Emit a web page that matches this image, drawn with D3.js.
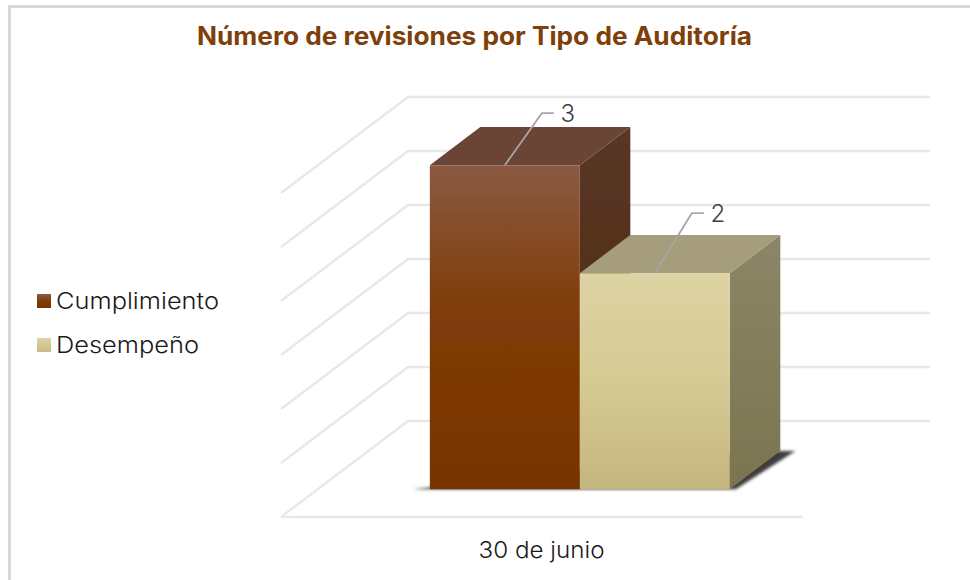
<!DOCTYPE html>
<html>
<head>
<meta charset="utf-8">
<script src="https://cdn.jsdelivr.net/npm/d3@7"></script>
<style>
  html, body { margin: 0; padding: 0; background: #fff; overflow: hidden; }
  text { font-family: "Inter", "Lato", sans-serif; }
</style>
</head>
<body>
<div id="chart"></div>
<script>
// chart values
const categories = ["30 de junio"];
const seriesNames = ["Cumplimiento", "Desempeño"];
const seriesValues = [3, 2];
const gridTicks = [0, 0.5, 1, 1.5, 2, 2.5, 3];

const svgWidth = 970, svgHeight = 580;

// fake 3D: every point is (x on the floor, value, depth 0..1)
const depthX = 127, depthY = 96;
const barNear = 0.29, barFar = 0.6875;
const floorLeft = 281, floorRight = 803;

const x = d3.scaleBand().domain(seriesNames).range([floorLeft + 1, floorRight + 1]).paddingInner(0).paddingOuter(0.74);
const y = d3.scaleLinear().domain([0, 3]).range([517, 193]);

const project = (px, v, z) => [px + z * depthX, y(v) - z * depthY];
const line = d3.line();

let svg = d3.select("#chart").append("svg")
    .attr("width", svgWidth)
    .attr("height", svgHeight);

let defs = svg.append("defs");

function gradient(id, stops) {
    let g = defs.append("linearGradient").attr("id", id)
        .attr("x1", 0).attr("y1", 0).attr("x2", 0).attr("y2", 1);
    stops.forEach(s => g.append("stop").attr("offset", s[0]).attr("stop-color", s[1]));
}
gradient("front0", [[0, "#8b5a42"], [0.45, "#7f3c08"], [1, "#783400"]]);
gradient("side0", [[0, "#583727"], [1, "#4c2507"]]);
gradient("front1", [[0, "#ddd3a3"], [0.5, "#d6ca94"], [1, "#c4b67f"]]);
gradient("side1", [[0, "#8c8668"], [1, "#7b744f"]]);
gradient("key0", [[0, "#8c5b43"], [0.5, "#7f3c08"], [1, "#783400"]]);
gradient("key1", [[0, "#ddd3a3"], [1, "#c9bc87"]]);

function blur(id, amount) {
    defs.append("filter").attr("id", id)
        .attr("x", "-20%").attr("y", "-20%").attr("width", "140%").attr("height", "140%")
        .append("feGaussianBlur").attr("stdDeviation", amount);
}
blur("soft", 1.8);
blur("edge", 0.5);

const topColors = ["#6b4535", "#a69d7b"];

// frame
svg.append("path")
    .attr("d", "M970,6.5H9.5V580")
    .attr("fill", "none")
    .attr("stroke", "#d9d9d9")
    .attr("stroke-width", 3);

// title
svg.append("text")
    .attr("x", 474.5)
    .attr("y", 45)
    .attr("text-anchor", "middle")
    .attr("font-size", 25)
    .attr("font-weight", 700)
    .attr("fill", "#7f3f0a")
    .attr("textLength", 555)
    .attr("lengthAdjust", "spacingAndGlyphs")
    .text("Número de revisiones por Tipo de Auditoría");

// walls and floor grid
let grid = svg.append("g")
    .attr("fill", "none")
    .attr("stroke", "#e8e8e8")
    .attr("stroke-width", 2.4)
    .attr("filter", "url(#edge)");
gridTicks.forEach(function(t) {
    grid.append("path").attr("d", line([project(floorLeft, t, 0), project(floorLeft, t, 1), project(floorRight, t, 1)]));
});
grid.append("path").attr("d", line([project(floorLeft, 0, 0), project(floorRight, 0, 0)]));

// shadow under the bars
let barRight = x(seriesNames[1]) + x.bandwidth();
svg.append("path")
    .attr("d", line([
        project(x(seriesNames[0]) - 17, 0, barNear),
        project(barRight + 6, 0, barNear),
        project(barRight + 15, 0, barFar),
        project(barRight - 30, 0, barFar)
    ]) + "Z")
    .attr("fill", "#3c3c3c")
    .attr("filter", "url(#soft)");

// bars, left one first so the right one covers its side face
let bars = svg.selectAll(".bar")
    .data(seriesNames)
    .enter()
    .append("g")
    .attr("class", "bar")
    .attr("filter", "url(#edge)");

bars.append("path")
    .attr("d", function(d, i) {
        let x1 = x(d) + x.bandwidth(), v = seriesValues[i];
        return line([project(x1, 0, barNear), project(x1, 0, barFar), project(x1, v, barFar), project(x1, v, barNear)]) + "Z";
    })
    .attr("fill", (d, i) => "url(#side" + i + ")");

bars.append("path")
    .attr("d", function(d, i) {
        let x0 = x(d), x1 = x(d) + x.bandwidth(), v = seriesValues[i];
        return line([project(x0, v, barNear), project(x0, v, barFar), project(x1, v, barFar), project(x1, v, barNear)]) + "Z";
    })
    .attr("fill", (d, i) => topColors[i]);

bars.append("path")
    .attr("d", function(d, i) {
        let x0 = x(d), x1 = x(d) + x.bandwidth(), v = seriesValues[i];
        return line([project(x0, 0, barNear), project(x0, v, barNear), project(x1, v, barNear), project(x1, 0, barNear)]) + "Z";
    })
    .attr("fill", (d, i) => "url(#front" + i + ")");

// leader lines with value labels
const leaderRise = [52, 60];
seriesNames.forEach(function(d, i) {
    let start = project(x(d) + x.bandwidth() / 2, seriesValues[i], barNear);
    let elbow = [start[0] + 37, start[1] - leaderRise[i]];
    svg.append("path")
        .attr("d", line([start, elbow, [elbow[0] + 12, elbow[1]]]))
        .attr("fill", "none")
        .attr("stroke", "#a6a6a6")
        .attr("stroke-width", 1.8);
    svg.append("text")
        .attr("x", elbow[0] + 26)
        .attr("y", elbow[1] + 9)
        .attr("text-anchor", "middle")
        .attr("font-size", 24)
        .attr("font-weight", 300)
        .attr("fill", "#404040")
        .text(seriesValues[i]);
});

// category label
svg.append("text")
    .attr("x", 541.5)
    .attr("y", 558)
    .attr("text-anchor", "middle")
    .attr("font-size", 23)
    .attr("font-weight", 300)
    .attr("fill", "#1a1a1a")
    .attr("textLength", 126)
    .attr("lengthAdjust", "spacingAndGlyphs")
    .text(categories[0]);

// legend
let legend = svg.selectAll(".key")
    .data(seriesNames)
    .enter()
    .append("g")
    .attr("class", "key")
    .attr("transform", (d, i) => "translate(37," + (294 + i * 44) + ")");

legend.append("rect")
    .attr("width", 14)
    .attr("height", 14)
    .attr("fill", (d, i) => "url(#key" + i + ")");

const legendWidths = [163, 143];
legend.append("text")
    .attr("x", 19)
    .attr("y", 15)
    .attr("font-size", 23)
    .attr("font-weight", 300)
    .attr("fill", "#1a1a1a")
    .attr("textLength", (d, i) => legendWidths[i])
    .attr("lengthAdjust", "spacingAndGlyphs")
    .text(d => d);
</script>
</body>
</html>
